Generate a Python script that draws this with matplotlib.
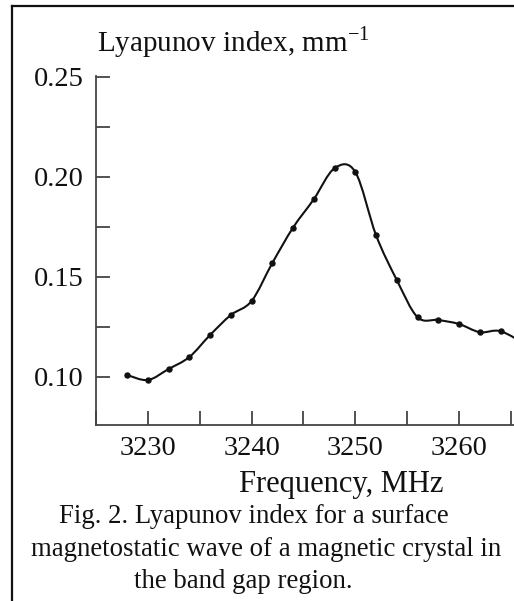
import numpy as np
import matplotlib
matplotlib.use("Agg")
import matplotlib.pyplot as plt
from matplotlib.path import Path
from matplotlib.patches import PathPatch
from matplotlib.ticker import MultipleLocator, FixedLocator

plt.rcParams['font.family'] = ['Liberation Serif', 'DejaVu Serif']
plt.rcParams['mathtext.fontset'] = 'stix'

# Data
freq = [3228, 3230, 3232, 3234, 3236, 3238, 3240, 3242, 3244, 3246,
        3248, 3250, 3252, 3254, 3256, 3258, 3260, 3262, 3264]
lyap = [0.101, 0.0985, 0.104, 0.110, 0.121, 0.131, 0.138, 0.157, 0.1747, 0.1889,
        0.2044, 0.2025, 0.1709, 0.1485, 0.1299, 0.1285, 0.1265, 0.1224, 0.1229]
# curve continues past the last marker, out of the frame
tail_freq = [3266.5]
tail_lyap = [0.116]

xticks_major = [3230, 3240, 3250, 3260]
yticks_major = [0.10, 0.15, 0.20, 0.25]
ytick_labels = ['0.10', '0.15', '0.20', '0.25']

fig = plt.figure(figsize=(5.14, 6.01), dpi=100)
ax = fig.add_axes([96/514, 1-425/601, 1-96/514, (425-76)/601])
ax.set_xlim(3225, 3265.3)
ax.set_ylim(0.076, 0.2505)

# smooth curve: Catmull-Rom spline converted to cubic Bezier segments
xs = np.array(freq + tail_freq, float)
ys = np.array(lyap + tail_lyap, float)
pts = np.column_stack([xs, ys])
verts = [tuple(pts[0])]
codes = [Path.MOVETO]
n = len(pts)
for i in range(n - 1):
    p0 = pts[i - 1] if i > 0 else pts[i]
    p1 = pts[i]
    p2 = pts[i + 1]
    p3 = pts[i + 2] if i + 2 < n else pts[i + 1]
    c1 = p1 + (p2 - p0) / 6.0
    c2 = p2 - (p3 - p1) / 6.0
    verts += [tuple(c1), tuple(c2), tuple(p2)]
    codes += [Path.CURVE4] * 3
patch = PathPatch(Path(verts, codes), facecolor='none', edgecolor='#111111',
                  lw=1.5, transform=ax.transData, clip_on=True)
ax.add_patch(patch)
ax.plot(freq, lyap, linestyle='none', marker='o', ms=3.6, color='#111111', zorder=3)

for s in ['top', 'right']:
    ax.spines[s].set_visible(False)
for s in ['left', 'bottom']:
    ax.spines[s].set_color('#444444')
    ax.spines[s].set_linewidth(1.3)

ax.xaxis.set_major_locator(FixedLocator(xticks_major))
ax.xaxis.set_minor_locator(MultipleLocator(5))
ax.set_yticks(yticks_major)
ax.set_yticklabels(ytick_labels)
ax.yaxis.set_minor_locator(MultipleLocator(0.025))
ax.tick_params(which='both', direction='in', length=10, width=1.3, color='#444444',
               labelsize=20.5, labelcolor='#111111')
ax.tick_params(axis='x', pad=8)
ax.tick_params(axis='y', pad=9)
ax.set_xticklabels([str(v) for v in xticks_major])

fig.text(97/514, 1-52/601, 'Lyapunov index, mm$^{\\mathregular{-1}}$', fontsize=21,
         ha='left', va='baseline', color='#111111')
fig.text(341/514, 1-492/601, 'Frequency, MHz', fontsize=22, ha='center', va='baseline',
         color='#111111')

cap = ['Fig. 2. Lyapunov index for a surface',
       'magnetostatic wave of a magnetic crystal in',
       'the band gap region.']
cap_y = [523, 556, 588]
cap_x = [254, 266, 243]
for t, yy, xx in zip(cap, cap_y, cap_x):
    fig.text(xx/514, 1-yy/601, t, fontsize=19.3, ha='center', va='baseline', color='#111111')

# page frame lines
fig.add_artist(plt.Line2D([12/514, 12/514], [0, 1-6/601], transform=fig.transFigure,
                          color='#111111', lw=1.6))
fig.add_artist(plt.Line2D([12/514, 1], [1-6/601, 1-6/601], transform=fig.transFigure,
                          color='#111111', lw=1.6))

fig.savefig('out.png', dpi=100)
